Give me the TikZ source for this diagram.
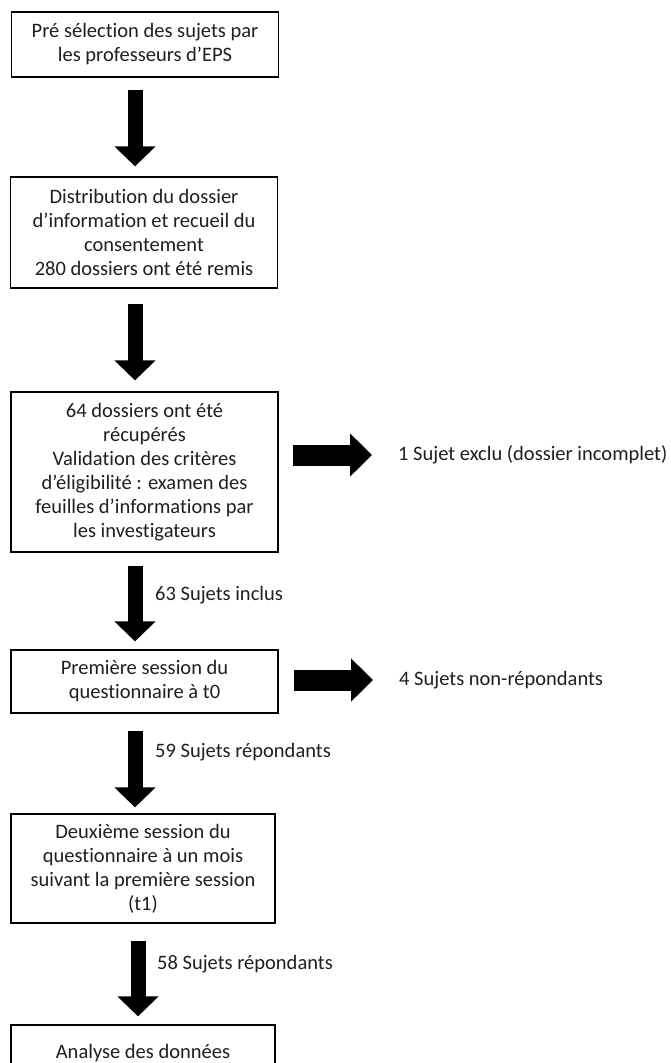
\documentclass[tikz,border=0pt]{standalone}
\usepackage{fontspec}
\setmainfont{Carlito}[Ligatures=NoCommon]
\usetikzlibrary{arrows.meta}
\begin{document}
\begin{tikzpicture}[x=1pt,y=1pt,
  every node/.style={font=\fontsize{20.5}{24}\selectfont, text=black!88},
  box/.style={draw=black, line width=1.2pt, align=center, inner sep=0pt, minimum width=267pt},
  downarrow/.style={draw=black, line width=15pt, -{Triangle[length=20pt,width=40pt]}},
  sidearrow/.style={draw=black, line width=21pt, -{Triangle[length=22pt,width=42pt]}},
  lbl/.style={anchor=west, inner sep=0pt, align=left}]
\useasboundingbox (0,0) rectangle (671,-1063);
\fill[white] (0,0) rectangle (671,-1063);
\coordinate (col) at (135,0);
\coordinate (colb) at (138,0);
% boxes
\node[box, minimum height=65pt] (b1) at (145,-44.5) {Pré sélection des sujets par\\les professeurs d’EPS};
\node[box, minimum height=111pt] (b2) at (144,-232.5) {Distribution du dossier\\d’information et recueil du\\consentement\\280 dossiers ont été remis};
\node[box, minimum height=160pt] (b3) at (144.5,-472) {64 dossiers ont été\\récupérés\\Validation des critères\\d’éligibilité : examen des\\feuilles d’informations par\\les investigateurs};
\node[box, minimum height=63pt] (b4) at (144.5,-681.5) {Première session du\\questionnaire à t0};
\node[box, minimum width=264pt, minimum height=109pt] (b5) at (143,-868.5) {Deuxième session du\\questionnaire à un mois\\suivant la première session\\(t1)};
\node[box, minimum width=264pt, minimum height=56pt] (b6) at (143,-1053) {Analyse des données};
% side labels
\node[lbl] (e1) at (398,-455) {1 Sujet exclu (dossier incomplet)};
\node[lbl] (e2) at (399,-680) {4 Sujets non-répondants};
% arrow labels
\node[lbl] (l3) at (155,-595) {63 Sujets inclus};
\node[lbl] (l4) at (155,-752) {59 Sujets répondants};
\node[lbl] (l5) at (157,-964) {58 Sujets répondants};
% down arrows
\draw[downarrow, shorten <=12pt, shorten >=10pt] (b1.south -| col) -- (b2.north -| col);
\draw[downarrow, shorten <=15pt, shorten >=11pt] (b2.south -| col) -- (b3.north -| col);
\draw[downarrow, shorten <=13pt, shorten >=8pt] (b3.south -| col) -- (b4.north -| col);
\draw[downarrow, shorten <=17pt, shorten >=6pt] (b4.south -| col) -- (b5.north -| col);
\draw[downarrow, shorten <=17pt, shorten >=8pt] (b5.south -| colb) -- (b6.north -| colb);
% side arrows
\draw[sidearrow, shorten <=14pt, shorten >=26pt] (b3.east |- e1.west) -- (e1.west);
\draw[sidearrow, shorten <=15pt, shorten >=26pt] (b4.east |- e2.west) -- (e2.west);
\end{tikzpicture}
\end{document}
